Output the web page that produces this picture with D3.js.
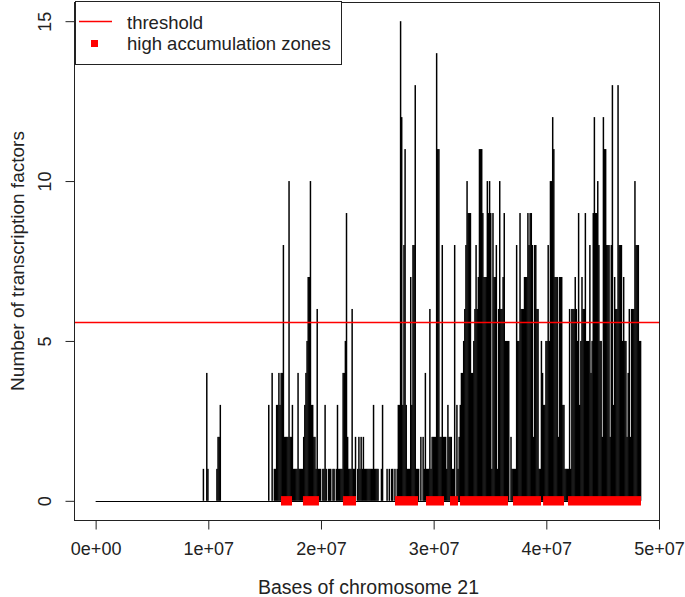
<!DOCTYPE html>
<html>
<head>
<meta charset="utf-8">
<script src="https://cdn.jsdelivr.net/npm/d3@7"></script>
<style>
  body { margin: 0; background: #fff; }
  svg { display: block; font-family: "Liberation Sans", Arial, sans-serif; }
</style>
</head>
<body>
<div id="chart"></div>
<script>
// transcription factor counts in 100 kb windows, starting at 9.5 Mb
var binStart = 9.5e6
var binSize = 1e5
var tfCounts = [
    1,0,0,4,1,0,0,0,  0,0,0,0,1,2,2,3,  0,0,0,0,0,0,0,0,  0,0,0,0,0,0,0,0,
    0,0,0,0,0,0,0,0,  0,0,0,0,0,0,0,0,  0,0,0,0,0,0,0,0,  0,0,3,0,0,4,0,1,
    1,3,3,4,3,4,4,8,  2,2,2,2,10,2,2,3, 1,1,1,1,4,1,1,1,  1,2,3,4,5,7,7,10,
    3,3,2,2,1,6,1,1,  1,0,1,1,3,1,0,1,  1,1,0,1,1,0,1,3,  1,1,1,1,4,4,5,9,
    2,1,1,1,6,1,1,2,  0,1,2,1,2,1,2,1,  1,1,1,1,1,1,1,3,  1,1,1,1,0,0,1,3,
    0,0,0,1,0,1,0,1,  1,0,1,0,1,3,3,15, 12,3,8,11,3,1,1,1, 7,3,8,8,13,1,1,1,
    0,2,0,2,1,4,1,1,  1,6,1,2,2,2,2,14, 11,11,2,2,8,2,2,2, 1,3,2,2,2,1,1,8,
    0,3,1,2,3,4,4,5,  6,8,10,9,9,9,4,4, 5,6,8,6,7,11,11,11, 9,7,7,7,10,9,10,9,
    1,9,7,7,8,1,6,10, 6,6,7,9,5,5,5,5,  0,2,1,1,1,1,8,5,  5,9,6,6,6,7,7,7,
    9,8,9,9,8,2,8,8,  6,6,1,1,5,4,3,3,  5,5,8,5,10,10,12,11, 7,7,7,2,7,7,7,3,
    3,1,1,1,1,6,1,6,  6,6,7,6,5,9,3,5,  7,6,6,9,5,5,5,8,  4,5,9,12,9,9,10,8,
    5,5,2,12,11,11,8,8, 8,2,8,13,3,7,6,6, 13,8,8,8,5,7,5,5, 2,4,6,2,6,6,6,10,
    8,8,8,5,5
]

// high accumulation zones (bases)
var zoneStarts = [16.45e6, 18.40e6, 21.95e6, 26.57e6, 29.32e6, 31.45e6, 32.34e6, 37.04e6, 39.71e6, 41.92e6]
var zoneEnds   = [17.43e6, 19.82e6, 23.11e6, 28.61e6, 30.92e6, 32.16e6, 36.60e6, 39.53e6, 41.57e6, 48.40e6]

var threshold = 5.6
var xTicks = [0, 1e7, 2e7, 3e7, 4e7, 5e7]
var yTicks = [0, 5, 10, 15]
var legendLabels = ["threshold", "high accumulation zones"]

var W = 685, H = 597
var box = { left: 74, right: 659, top: 2, bottom: 520 }

var svg = d3.select("#chart").append("svg")
    .attr("width", W)
    .attr("height", H)

var x = d3.scaleLinear()
    .domain([-1.92e6, 50.0e6])
    .range([box.left, box.right])

var y = d3.scaleLinear()
    .domain([-0.6, 15.6])
    .range([box.bottom, box.top])

// baseline at zero over the whole chromosome
var chromEnd = binStart + tfCounts.length * binSize
svg.append("line")
    .attr("x1", x(0)).attr("x2", x(chromEnd))
    .attr("y1", Math.round(y(0)) + 0.5).attr("y2", Math.round(y(0)) + 0.5)
    .attr("stroke", "#000")

// vertical "h" lines, one per window (slight overlap so solid runs have no seams)
var bw = x(binSize) - x(0)
svg.append("g")
    .selectAll("rect")
    .data(tfCounts.map(function (c, i) { return { pos: binStart + i * binSize, count: c } })
        .filter(function (d) { return d.count > 0 }))
    .enter().append("rect")
    .attr("x", function (d) { return x(d.pos) })
    .attr("width", bw + 0.35)
    .attr("y", function (d) { return y(d.count) })
    .attr("height", function (d) { return y(0) - y(d.count) })
    .attr("fill", "#000")

// threshold line
var ty = Math.round(y(threshold)) + 0.5
svg.append("line")
    .attr("x1", box.left).attr("x2", box.right)
    .attr("y1", ty).attr("y2", ty)
    .style("stroke", "#ff0000")
    .style("stroke-width", 1.5)

// red square markers for the zones
svg.append("g")
    .selectAll("rect")
    .data(zoneStarts.map(function (s, i) { return { s: s, e: zoneEnds[i] } }))
    .enter().append("rect")
    .attr("x", function (d) { return x(d.s) })
    .attr("width", function (d) { return x(d.e) - x(d.s) })
    .attr("y", y(0) - 4.7)
    .attr("height", 9.4)
    .attr("fill", "#ff0000")

// box
svg.append("rect")
    .attr("x", box.left + 0.5).attr("y", box.top + 0.5)
    .attr("width", box.right - box.left).attr("height", box.bottom - box.top)
    .attr("fill", "none")
    .attr("stroke", "#222")

function sci(d) {
    if (d === 0) return "0e+00"
    var e = Math.floor(Math.log10(d))
    return Math.round(d / Math.pow(10, e)) + "e+" + String(e).padStart(2, "0")
}

// x axis
var xAxis = svg.append("g")
    .attr("transform", "translate(0," + (box.bottom + 0.5) + ")")
    .call(d3.axisBottom(x).tickValues(xTicks).tickFormat(sci).tickSize(9).tickPadding(13))
xAxis.select(".domain").remove()
xAxis.selectAll("line").attr("stroke", "#222")
xAxis.selectAll("text")
    .attr("font-size", 18)
    .attr("fill", "#222")
    .attr("font-family", "Liberation Sans, Arial, sans-serif")

// y axis with rotated labels
var yAxis = svg.append("g")
    .attr("transform", "translate(" + (box.left + 0.5) + ",0)")
    .call(d3.axisLeft(y).tickValues(yTicks).tickSize(9))
yAxis.select(".domain").remove()
yAxis.selectAll("line").attr("stroke", "#222")
yAxis.selectAll("text")
    .attr("font-size", 18)
    .attr("fill", "#222")
    .attr("font-family", "Liberation Sans, Arial, sans-serif")
    .attr("text-anchor", "middle")
    .attr("dy", 0)
    .attr("x", 0)
    .attr("transform", "translate(-24,0) rotate(-90)")

// axis titles
svg.append("text")
    .attr("x", (box.left + box.right) / 2 + 2)
    .attr("y", 594)
    .attr("text-anchor", "middle")
    .attr("font-size", 19.5)
    .attr("fill", "#222")
    .text("Bases of chromosome 21")

svg.append("text")
    .attr("transform", "translate(24," + ((box.top + box.bottom) / 2) + ") rotate(-90)")
    .attr("text-anchor", "middle")
    .attr("font-size", 19)
    .attr("fill", "#222")
    .text("Number of transcription factors")

// legend
var lg = svg.append("g")
lg.append("rect")
    .attr("x", 75.5).attr("y", 1.5)
    .attr("width", 266).attr("height", 63)
    .attr("fill", "#fff")
    .attr("stroke", "#222")
lg.append("line")
    .attr("x1", 79).attr("x2", 112)
    .attr("y1", 21.5).attr("y2", 21.5)
    .style("stroke", "#ff0000")
    .style("stroke-width", 1.5)
lg.append("rect")
    .attr("x", 91).attr("y", 40)
    .attr("width", 7).attr("height", 7)
    .attr("fill", "#ff0000")
lg.selectAll("text.lab")
    .data(legendLabels)
    .enter().append("text")
    .attr("class", "lab")
    .attr("x", 127)
    .attr("y", function (d, i) { return 29 + i * 21 })
    .attr("font-size", 18.5)
    .attr("fill", "#222")
    .text(function (d) { return d })
</script>
</body>
</html>
